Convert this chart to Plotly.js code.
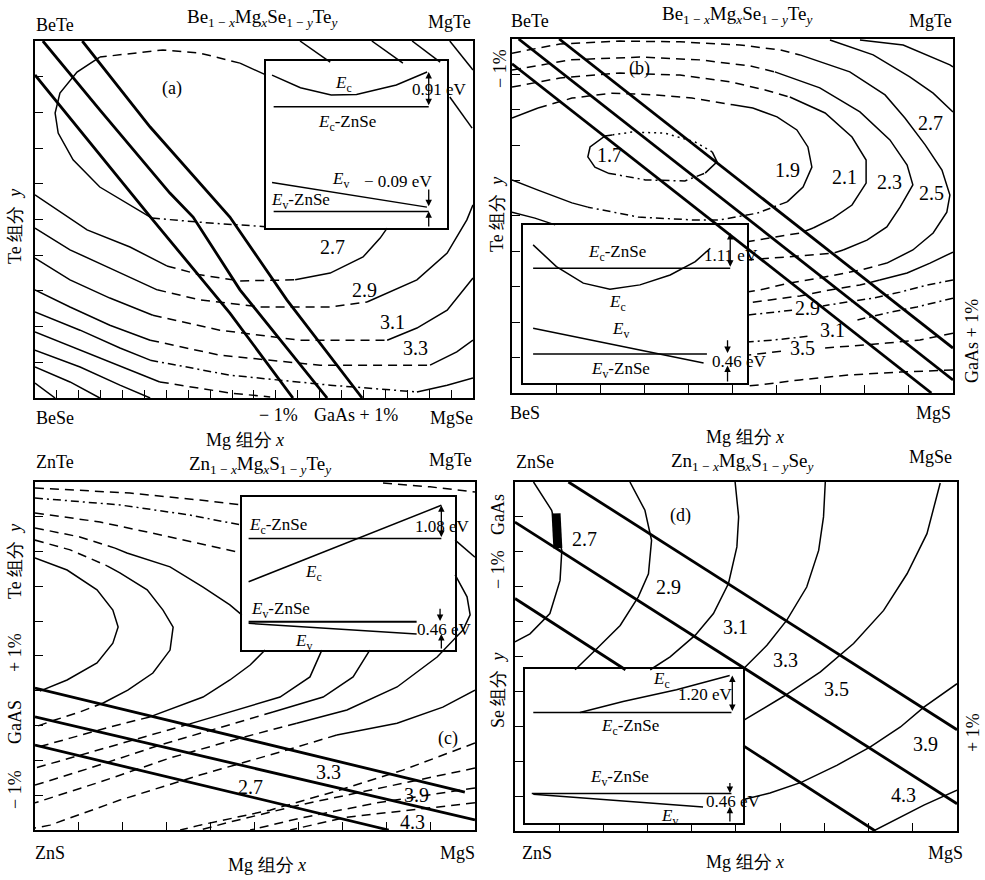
<!DOCTYPE html>
<html><head><meta charset="utf-8">
<script src="https://cdn.plot.ly/plotly-3.0.1.min.js"></script>
<style>html,body{margin:0;padding:0;background:#fff;} #chart{width:985px;height:880px;}</style>
</head><body><div id="chart"></div>
<script>
// ================= DATA (composition units) =================
// ---- panel (a) Be1-xMgxSe1-yTey : lattice-match lines ----
const aLmX = [0, 0.269, 0.445, 0.537, 0.589], aLmY = [0.905, 0.499, 0.238, 0.087, 0];
const aL0X = [0.018, 0.148, 0.308, 0.361, 0.468, 0.667], aL0Y = [1, 0.807, 0.574, 0.507, 0.303, 0];
const aLpX = [0.108, 0.263, 0.445, 0.575, 0.747], aLpY = [1, 0.759, 0.507, 0.275, 0];
// ---- panel (a) band-gap contours ----
const aC0X = [0.527,0.468,0.377,0.292,0.148,0.096,0.057,0.046,0.053,0.087,0.148,0.224,0.267,0.400,0.527];
const aC0Y = [0.905,0.938,0.966,0.975,0.955,0.913,0.854,0.798,0.742,0.667,0.591,0.535,0.504,0.490,0.480];
const aC27X = [0,0.050,0.119,0.217,0.301,0.377,0.468,0.594,0.674,0.749,0.788,0.804];
const aC27Y = [0.569,0.527,0.471,0.423,0.370,0.345,0.328,0.331,0.350,0.395,0.448,0.476];
const aC29X = [0,0.080,0.171,0.279,0.377,0.514,0.674,0.758,0.872,0.941,0.986,1.0];
const aC29Y = [0.476,0.415,0.364,0.303,0.275,0.255,0.255,0.269,0.331,0.406,0.499,0.541];
const aC31X = [0,0.080,0.171,0.269,0.422,0.605,0.804,0.872,0.941,1.0];
const aC31Y = [0.392,0.331,0.280,0.232,0.190,0.162,0.162,0.196,0.246,0.336];
const aC33X = [0,0.080,0.171,0.263,0.422,0.651,0.902,0.963,1.0];
const aC33Y = [0.303,0.255,0.204,0.162,0.120,0.092,0.092,0.129,0.162];
const aC35X = [0,0.103,0.194,0.263,0.445,0.674,0.872,0.941,1.0];
const aC35Y = [0.241,0.190,0.140,0.106,0.064,0.036,0.017,0.036,0.056];
const aC37X = [0,0.103,0.217,0.285,0.445,0.537], aC37Y = [0.185,0.134,0.078,0.045,0.014,0.003];
const aC39X = [0,0.103,0.194,0.263], aC39Y = [0.134,0.087,0.036,0];
const aC41X = [0,0.080,0.148], aC41Y = [0.087,0.045,0];
const aC43X = [0,0.046], aC43Y = [0.042,0];
const aT1X = [0.605,0.674], aT1Y = [1,0.941];
const aT2X = [0.769,0.840], aT2Y = [1,0.938];
const aT3X = [0.861,0.925], aT3Y = [1,0.941];
const aT4X = [0.947,1.0], aT4Y = [1,0.919];
const aT5X = [0.947,0.998], aT5Y = [0.843,0.756];
// inset (a) band diagram (relative units)
const aEcU = [0.033,0.19,0.36,0.50,0.72,0.89], aEcV = [0.915,0.84,0.796,0.80,0.856,0.934];
const aEcZU = [0.042,0.899], aEcZV = [0.726,0.726];
const aEvU = [0.033,0.889], aEvV = [0.272,0.125];
const aEvZU = [0.042,0.899], aEvZV = [0.099,0.099];

// ---- panel (b) Be1-xMgxSe1-yTey on BeS/MgS ----
const bLAX = [0, 0.951], bLAY = [0.93, 0];
const bLBX = [0.015, 1], bLBY = [1, 0.037];
const bLCX = [0.107, 1], bLCY = [1, 0.127];
const b17X = [0.227,0.211,0.177,0.172,0.188,0.218,0.302,0.392,0.438,0.465,0.454,0.415,0.347,0.272,0.227];
const b17Y = [0.729,0.726,0.695,0.667,0.638,0.621,0.602,0.599,0.621,0.653,0.681,0.709,0.734,0.737,0.729];
const b19X = [0,0.059,0.136,0.227,0.324,0.408,0.501,0.546,0.601,0.646,0.671,0.680,0.660,0.624,0.556,0.472,0.408,0.286,0.172,0.136,0.059,0];
const b19Y = [0.777,0.805,0.833,0.847,0.842,0.833,0.814,0.805,0.780,0.743,0.695,0.638,0.582,0.540,0.508,0.489,0.489,0.497,0.525,0.537,0.573,0.602];
const b21X = [0,0.109,0.245,0.381,0.494,0.574,0.630,0.710,0.771,0.803,0.803,0.771,0.728,0.683,0.653,0.585,0.533];
const b21Y = [0.864,0.890,0.904,0.898,0.879,0.856,0.836,0.791,0.723,0.658,0.593,0.531,0.494,0.466,0.452,0.438,0.427];
const b21bX = [0,0.052,0.098], b21bY = [0.511,0.494,0.475];
const b23X = [0,0.132,0.290,0.426,0.540,0.596,0.698,0.789,0.857,0.896,0.909,0.880,0.850,0.805,0.751,0.728,0.653,0.592,0.533];
const b23Y = [0.912,0.941,0.949,0.941,0.924,0.907,0.862,0.794,0.715,0.644,0.588,0.525,0.469,0.432,0.404,0.395,0.387,0.381,0.376];
const b25X = [0,0.109,0.245,0.381,0.517,0.608,0.653,0.766,0.846,0.891,0.937,0.975,0.993,0.986,0.955,0.909,0.850,0.789,0.698,0.630,0.562,0.533];
const b25Y = [0.960,0.986,0.994,0.992,0.983,0.969,0.955,0.907,0.842,0.777,0.701,0.630,0.559,0.511,0.452,0.404,0.367,0.347,0.325,0.311,0.291,0.285];
const b27X = [0.721,0.819,0.902,0.955,1.0], b27Y = [0.997,0.955,0.893,0.847,0.794];
const b27bX = [1.0,0.948,0.896,0.834,0.789,0.721,0.653,0.585,0.533], b27bY = [0.398,0.367,0.339,0.319,0.305,0.291,0.274,0.263,0.254];
const bTRX = [0.789,0.887,0.993,1.0], bTRY = [0.997,0.983,0.927,0.921];
const b29X = [1.0,0.941,0.880,0.819,0.760,0.705], b29Y = [0.319,0.305,0.285,0.268,0.257,0.246];
const b29bX = [0.635,0.533], b29bY = [0.234,0.220];
const b31X = [1.0,0.918,0.850,0.782], b31Y = [0.268,0.243,0.226,0.206];
const b31bX = [0.67,0.596,0.533], b31bY = [0.16,0.150,0.144];
const b35X = [1.0,0.925,0.850,0.766,0.71], b35Y = [0.169,0.150,0.141,0.133,0.127];
const b35bX = [0.61,0.533], b35bY = [0.118,0.107];
const b37X = [1.0,0.880,0.766,0.653,0.562,0.533], b37Y = [0.065,0.059,0.051,0.037,0.023,0.020];
const bEcU = [0.045,0.149,0.269,0.388,0.522,0.657,0.769,0.836], bEcV = [0.874,0.737,0.632,0.594,0.621,0.684,0.768,0.853];
const bEcZU = [0.045,0.925], bEcZV = [0.726,0.726];
const bEvU = [0.045,0.806], bEvV = [0.347,0.126];
const bEvZU = [0.045,0.821], bEvZV = [0.183,0.183];

// ---- panel (c) Zn1-xMgxS1-yTey ----
const cLtX = [0, 0.977], cLtY = [0.408, 0.109];
const cLmX = [0, 1], cLmY = [0.325, 0.029];
const cLbX = [0, 0.804], cLbY = [0.244, 0];
const cA1X = [0,0.073,0.141,0.177,0.189,0.177,0.141,0.073,0.011], cA1Y = [0.782,0.747,0.690,0.632,0.583,0.537,0.480,0.431,0.399];
const cA2X = [0,0.080,0.164,0.193,0.255,0.291,0.314,0.307,0.268,0.211,0.155,0.102,0.045,0];
const cA2Y = [0.833,0.805,0.759,0.739,0.690,0.632,0.583,0.517,0.451,0.402,0.365,0.339,0.316,0.296];
const cA3uX = [0,0.102,0.182,0.209,0.307,0.382,0.443,0.470], cA3uY = [0.868,0.842,0.810,0.796,0.756,0.698,0.647,0.618];
const cA3lX = [0.523,0.489,0.443,0.382,0.261,0.170,0.080,0], cA3lY = [0.517,0.474,0.431,0.382,0.325,0.296,0.264,0.236];
const cA4uX = [0,0.148,0.307,0.470], cA4uY = [0.911,0.885,0.842,0.796];
const cA4lX = [0.652,0.625,0.557,0.443,0.352,0.239,0.125,0], cA4lY = [0.517,0.440,0.382,0.339,0.305,0.264,0.224,0.178];
const cA5uX = [0,0.193,0.352,0.470], cA5uY = [0.954,0.934,0.905,0.876];
const cA5lX = [0.761,0.723,0.655,0.541,0.443,0.284,0.125,0], cA5lY = [0.517,0.440,0.382,0.339,0.302,0.244,0.178,0.129];
const cA6uX = [0,0.216,0.375,0.470], cA6uY = [0.983,0.968,0.948,0.934];
const cA6rX = [0.955,0.982,0.989,0.973,0.914,0.823,0.709,0.595,0.466,0.307,0.148,0];
const cA6rY = [0.733,0.670,0.618,0.575,0.497,0.411,0.345,0.307,0.264,0.207,0.138,0.078];
const cA7tX = [0.791,0.898,1.0], cA7tY = [0.997,0.986,0.971];
const cA7rX = [0.955,1.0], cA7rY = [0.833,0.784];
const cA7lX = [1.0,0.927,0.823,0.686,0.557,0.375,0.193,0.034,0], cA7lY = [0.402,0.353,0.307,0.273,0.224,0.158,0.086,0.014,0.006];
const cA8X = [1.0,0.836,0.693,0.534,0.375,0.330], cA8Y = [0.25,0.172,0.115,0.057,0.014,0];
const cA9X = [1,0.761,0.602,0.443,0.375], cA9Y = [0.178,0.115,0.072,0.023,0];
const cA10X = [1,0.777,0.602,0.489], cA10Y = [0.121,0.078,0.034,0];
const cA11X = [1,0.709,0.580], cA11Y = [0.078,0.037,0];
const cEcZU = [0.031,0.936], cEcZV = [0.728,0.728];
const cEcU = [0.031,0.936], cEcV = [0.446,0.946];
const cEvZU = [0.031,0.82], cEvZV = [0.185,0.185];
const cEvU = [0.031,0.82], cEvV = [0.174,0.104];

// ---- panel (d) Zn1-xMgxS1-ySey ----
const dL1X = [0.121, 1], dL1Y = [1, 0.290];
const dL2X = [0, 1], dL2Y = [0.885, 0.078];
const dL3aX = [0, 0.25], dL3aY = [0.666, 0.462];
const dL3bX = [0.517, 0.815], dL3bY = [0.244, 0];
const d27X = [0.042,0.083,0.106,0.102,0.079,0.034,0], d27Y = [1,0.919,0.804,0.718,0.623,0.565,0.542];
const d29X = [0.260,0.294,0.309,0.302,0.279,0.238,0.185,0.136], d29Y = [1,0.919,0.833,0.737,0.671,0.589,0.522,0.462];
const d31X = [0.498,0.506,0.502,0.483,0.449,0.408,0.351,0.306], d31Y = [1,0.900,0.814,0.709,0.623,0.561,0.499,0.462];
const d33X = [0.702,0.698,0.687,0.660,0.615,0.570,0.517], d33Y = [1,0.900,0.804,0.699,0.604,0.532,0.465];
const d35X = [0.517,0.608,0.691,0.766,0.834,0.887,0.932,0.962], d35Y = [0.317,0.386,0.456,0.537,0.632,0.737,0.852,0.997];
const d39X = [0.517,0.577,0.649,0.728,0.804,0.872,0.925,1], d39Y = [0.090,0.109,0.140,0.188,0.241,0.298,0.355,0.422];
const d43X = [0.811,0.864,0.925,1], d43Y = [0,0.035,0.074,0.117];
const dBlobX = [0.093,0.097], dBlobY = [0.91,0.81];
const dEcU = [0.252,0.45,0.695,0.939], dEcV = [0.717,0.789,0.865,0.957];
const dEcZU = [0.038,0.947], dEcZV = [0.717,0.717];
const dEvZU = [0.031,0.947], dEvZV = [0.191,0.191];
const dEvU = [0.038,0.817], dEvV = [0.187,0.104];

// ================= DRAWING =================
const F = 'Liberation Serif, serif';
const DASH = {s:'solid', d:'9px,6px', t:'8px,4px,2px,4px', o:'2px,4px'};
const traces = [];
function axId(n, c) { return c + (n === 1 ? '' : n); }
function seg(xs, ys, st, n, w) {
  traces.push({type:'scatter', mode:'lines', x:xs, y:ys, xaxis:axId(n,'x'), yaxis:axId(n,'y'),
    line:{color:'#000', width:w, dash:DASH[st]}, hoverinfo:'skip', showlegend:false});
}
function curve(xs, ys, spec, n, w) {
  w = w || 1.5; let i = 0;
  spec.split(' ').forEach(r => { const k = parseInt(r.slice(1), 10); seg(xs.slice(i, i + k + 1), ys.slice(i, i + k + 1), r[0], n, w); i += k; });
}
const LW = 2.8;
// (a)
curve(aLmX, aLmY, 's4', 1, LW); curve(aL0X, aL0Y, 's5', 1, LW); curve(aLpX, aLpY, 's4', 1, LW);
curve(aC0X, aC0Y, 's1 d3 s8 t2', 1);
curve(aC27X, aC27Y, 's4 d3 s4', 1);
curve(aC29X, aC29Y, 's3 d4 s4', 1);
curve(aC31X, aC31Y, 's3 d3 s3', 1);
curve(aC33X, aC33Y, 's3 d3 s2', 1);
curve(aC35X, aC35Y, 's3 t3 s2', 1);
curve(aC37X, aC37Y, 's3 d2', 1);
curve(aC39X, aC39Y, 's3', 1); curve(aC41X, aC41Y, 's2', 1); curve(aC43X, aC43Y, 's1', 1);
[[aT1X,aT1Y],[aT2X,aT2Y],[aT3X,aT3Y],[aT4X,aT4Y],[aT5X,aT5Y]].forEach(p => curve(p[0], p[1], 's1', 1));
// (b)
curve(bLAX, bLAY, 's1', 2, LW); curve(bLBX, bLBY, 's1', 2, LW); curve(bLCX, bLCY, 's1', 2, LW);
curve(b17X, b17Y, 's5 t3 s2 o4', 2);
curve(b19X, b19Y, 's1 d5 s7 t5 s3', 2);
curve(b21X, b21Y, 'd6 s7 d3', 2); curve(b21bX, b21bY, 's2', 2);
curve(b23X, b23Y, 'd5 s9 d4', 2);
curve(b25X, b25Y, 'd6 s10 d5', 2);
curve(b27X, b27Y, 's4', 2); curve(b27bX, b27bY, 's3 d5', 2);
curve(bTRX, bTRY, 's3', 2);
curve(b29X, b29Y, 't5', 2); curve(b29bX, b29bY, 't1', 2);
curve(b31X, b31Y, 't3', 2); curve(b31bX, b31bY, 't2', 2);
curve(b35X, b35Y, 'd4', 2); curve(b35bX, b35bY, 'd1', 2);
curve(b37X, b37Y, 'd5', 2);
// (c)
curve(cLtX, cLtY, 's1', 3, LW); curve(cLmX, cLmY, 's1', 3, LW); curve(cLbX, cLbY, 's1', 3, LW);
curve(cA1X, cA1Y, 's8', 3);
curve(cA2X, cA2Y, 'd2 s8 d3', 3);
curve(cA3uX, cA3uY, 'd2 s5', 3); curve(cA3lX, cA3lY, 's4 d3', 3);
curve(cA4uX, cA4uY, 'd3', 3); curve(cA4lX, cA4lY, 's4 d3', 3);
curve(cA5uX, cA5uY, 't3', 3); curve(cA5lX, cA5lY, 's3 d4', 3);
curve(cA6uX, cA6uY, 'd3', 3); curve(cA6rX, cA6rY, 's7 d4', 3);
curve(cA7tX, cA7tY, 'd2', 3); curve(cA7rX, cA7rY, 's1', 3); curve(cA7lX, cA7lY, 's3 d5', 3);
curve(cA8X, cA8Y, 'd5', 3); curve(cA9X, cA9Y, 'd4', 3); curve(cA10X, cA10Y, 'd3', 3); curve(cA11X, cA11Y, 'd2', 3);
// (d)
curve(dL1X, dL1Y, 's1', 4, LW); curve(dL2X, dL2Y, 's1', 4, LW); curve(dL3aX, dL3aY, 's1', 4, LW); curve(dL3bX, dL3bY, 's1', 4, LW);
curve(d27X, d27Y, 's6', 4); curve(d29X, d29Y, 's7', 4); curve(d31X, d31Y, 's7', 4); curve(d33X, d33Y, 's6', 4);
curve(d35X, d35Y, 's7', 4); curve(d39X, d39Y, 's7', 4); curve(d43X, d43Y, 's3', 4);
curve(dBlobX, dBlobY, 's1', 4, 9);
// insets
curve(aEcU, aEcV, 's5', 5); curve(aEcZU, aEcZV, 's1', 5); curve(aEvU, aEvV, 's1', 5); curve(aEvZU, aEvZV, 's1', 5);
curve(bEcU, bEcV, 's7', 6); curve(bEcZU, bEcZV, 's1', 6); curve(bEvU, bEvV, 's1', 6); curve(bEvZU, bEvZV, 's1', 6);
curve(cEcU, cEcV, 's1', 7); curve(cEcZU, cEcZV, 's1', 7); curve(cEvU, cEvV, 's1', 7); curve(cEvZU, cEvZV, 's1', 7, 2);
curve(dEcU, dEcV, 's3', 8); curve(dEcZU, dEcZV, 's1', 8); curve(dEvU, dEvV, 's1', 8); curve(dEvZU, dEvZV, 's1', 8);

// ================= TEXT =================
const ann = [];
function lab(x, y, text, n, size, extra) {
  ann.push(Object.assign({x:x, y:y, xref: n === 0 ? 'paper' : axId(n,'x'), yref: n === 0 ? 'paper' : axId(n,'y'),
    xanchor:'center', yanchor:'middle', text:text, showarrow:false,
    font:{family:F, size:size || 18, color:'#000'}}, extra || {}));
}
function pl(px, py, text, size, extra) { lab(px / 985, 1 - py / 880, text, 0, size, extra); }
function arrow(n, u, tip, tail, both) {
  ann.push({xref:axId(n,'x'), yref:axId(n,'y'), axref:axId(n,'x'), ayref:axId(n,'y'), x:u, y:tip, ax:u, ay:tail,
    text:'', showarrow:true, arrowhead:2, arrowsize:1, arrowwidth:1.3, arrowcolor:'#000', arrowside: both ? 'end+start' : 'end'});
}
const ROT = {textangle:-90};
const CL = 20, IN = 17, PN = 18;
const Ec = '<i>E</i><sub>c</sub>', Ev = '<i>E</i><sub>v</sub>';
const tBe = 'Be<sub>1 − <i>x</i></sub>Mg<sub><i>x</i></sub>Se<sub>1 − <i>y</i></sub>Te<sub><i>y</i></sub>';
const tZnTe = 'Zn<sub>1 − <i>x</i></sub>Mg<sub><i>x</i></sub>S<sub>1 − <i>y</i></sub>Te<sub><i>y</i></sub>';
const tZnSe = 'Zn<sub>1 − <i>x</i></sub>Mg<sub><i>x</i></sub>S<sub>1 − <i>y</i></sub>Se<sub><i>y</i></sub>';
const xT = 'Mg 组分 <i>x</i>';
// (a)
pl(55,25,'BeTe'); pl(449,22,'MgTe'); pl(262,18,tBe,19); pl(55,418,'BeSe'); pl(451,418,'MgSe');
pl(278,415,'− 1%'); pl(356,415,'GaAs + 1%'); pl(245,440,xT); pl(15,227,'Te 组分  <i>y</i>',18,ROT);
lab(0.313,0.868,'(a)',1,PN); lab(0.680,0.423,'2.7',1,CL); lab(0.753,0.303,'2.9',1,CL); lab(0.817,0.213,'3.1',1,CL); lab(0.868,0.140,'3.3',1,CL);
lab(0.43,0.86,Ec,5,IN); lab(0.96,0.83,'0.91 eV',5,IN); lab(0.45,0.626,Ec+'-ZnSe',5,IN);
lab(0.41,0.29,Ev,5,IN); lab(0.73,0.28,'− 0.09 eV',5,IN); lab(0.19,0.16,Ev+'-ZnSe',5,IN);
arrow(5,0.899,0.934,0.726,true); arrow(5,0.899,0.13,0.24,false); arrow(5,0.899,0.10,0.0,false);
// (b)
pl(530,21,'BeTe'); pl(930,21,'MgTe'); pl(737,15,tBe,19); pl(525,413,'BeS'); pl(933,413,'MgS'); pl(745,437,xT);
pl(497,215,'Te 组分  <i>y</i>',18,ROT); pl(500,68,'− 1%',18,ROT); pl(972,341,'GaAs + 1%',18,ROT);
lab(0.29,0.918,'(b)',2,PN); lab(0.222,0.672,'1.7',2,CL); lab(0.624,0.630,'1.9',2,CL); lab(0.755,0.610,'2.1',2,CL);
lab(0.857,0.596,'2.3',2,CL); lab(0.952,0.565,'2.5',2,CL); lab(0.948,0.763,'2.7',2,CL); lab(0.669,0.240,'2.9',2,CL);
lab(0.726,0.178,'3.1',2,CL); lab(0.658,0.127,'3.5',2,CL);
lab(0.42,0.82,Ec+'-ZnSe',6,IN); lab(0.93,0.81,'1.11 eV',6,IN); lab(0.42,0.505,Ec,6,IN);
lab(0.433,0.337,Ev,6,IN); lab(0.965,0.137,'0.46 eV',6,IN); lab(0.433,0.084,Ev+'-ZnSe',6,IN);
arrow(6,0.925,0.95,0.726,true); arrow(6,0.913,0.19,0.28,false); arrow(6,0.913,0.11,0.0,false);
// (c)
pl(55,462,'ZnTe'); pl(450,460,'MgTe'); pl(260,465,tZnTe,19); pl(50,853,'ZnS'); pl(457,853,'MgS'); pl(267,865,xT);
pl(15,562,'Te 组分  <i>y</i>',18,ROT); pl(15,653,'+ 1%',18,ROT); pl(15,722,'GaAS',18,ROT); pl(15,790,'− 1%',18,ROT);
lab(0.939,0.264,'(c)',3,PN); lab(0.489,0.124,'2.7',3,CL); lab(0.666,0.167,'3.3',3,CL); lab(0.868,0.101,'3.9',3,CL); lab(0.857,0.023,'4.3',3,CL);
lab(0.17,0.81,Ec+'-ZnSe',7,IN); lab(0.94,0.81,'1.08 eV',7,IN); lab(0.336,0.5,Ec,7,IN);
lab(0.18,0.26,Ev+'-ZnSe',7,IN); lab(0.95,0.135,'0.46 eV',7,IN); lab(0.289,0.054,Ev,7,IN);
arrow(7,0.936,0.946,0.728,true); arrow(7,0.93,0.19,0.28,false); arrow(7,0.936,0.105,0.0,false);
// (d)
pl(535,462,'ZnSe'); pl(930,457,'MgSe'); pl(742,462,tZnSe,19); pl(537,853,'ZnS'); pl(945,853,'MgS'); pl(745,862,xT);
pl(498,515,'GaAs',18,ROT); pl(498,570,'− 1%',18,ROT); pl(498,690,'Se 组分  <i>y</i>',18,ROT); pl(973,733,'+ 1%',18,ROT);
lab(0.374,0.905,'(d)',4,PN); lab(0.158,0.838,'2.7',4,CL); lab(0.347,0.699,'2.9',4,CL); lab(0.498,0.585,'3.1',4,CL);
lab(0.611,0.489,'3.3',4,CL); lab(0.728,0.408,'3.5',4,CL); lab(0.928,0.250,'3.9',4,CL); lab(0.879,0.102,'4.3',4,CL);
lab(0.626,0.93,Ec,8,IN); lab(0.83,0.833,'1.20 eV',8,IN); lab(0.48,0.626,Ec+'-ZnSe',8,IN);
lab(0.435,0.289,Ev+'-ZnSe',8,IN); lab(0.955,0.137,'0.46 eV',8,IN); lab(0.664,0.04,Ev,8,IN);
arrow(8,0.951,0.957,0.717,true); arrow(8,0.94,0.195,0.27,false); arrow(8,0.94,0.105,0.0,false);

// ================= LAYOUT =================
function mainAx(dom, anchor, dt) {
  return {domain:dom, anchor:anchor, range:[0,1], showgrid:false, zeroline:false, showline:true, mirror:true,
    linecolor:'#000', linewidth:2, ticks:'inside', ticklen:8, tickwidth:1.2, tickcolor:'#000', tick0:0, dtick:dt,
    showticklabels:false, fixedrange:true};
}
function insAx(dom, anchor) {
  return {domain:dom, anchor:anchor, range:[0,1], showgrid:false, zeroline:false, showline:true, mirror:true,
    linecolor:'#000', linewidth:1.5, ticks:'', showticklabels:false, fixedrange:true};
}
const layout = {width:985, height:880, margin:{l:0,r:0,t:0,b:0}, paper_bgcolor:'#fff', plot_bgcolor:'rgba(0,0,0,0)',
  showlegend:false, annotations:ann, font:{family:F, size:18, color:'#000'},
  xaxis: mainAx([0.0355,0.4802],'y',0.05), yaxis: mainAx([0.5477,0.9534],'x',0.1),
  xaxis2: mainAx([0.5198,0.9675],'y2',0.1), yaxis2: mainAx([0.5534,0.9557],'x2',0.1),
  xaxis3: mainAx([0.0355,0.4822],'y3',0.1), yaxis3: mainAx([0.0568,0.4523],'x3',0.1),
  xaxis4: mainAx([0.5228,0.9716],'y4',0.1), yaxis4: mainAx([0.0557,0.4523],'x4',0.1),
  xaxis5: insAx([0.2701,0.4538],'y5'), yaxis5: insAx([0.7409,0.9307],'x5'),
  xaxis6: insAx([0.5310,0.7584],'y6'), yaxis6: insAx([0.5648,0.7443],'x6'),
  xaxis7: insAx([0.2457,0.4619],'y7'), yaxis7: insAx([0.2614,0.4352],'x7'),
  xaxis8: insAx([0.5330,0.7543],'y8'), yaxis8: insAx([0.0648,0.2398],'x8')
};
Plotly.newPlot('chart', traces, layout, {displayModeBar:false});
</script></body></html>
